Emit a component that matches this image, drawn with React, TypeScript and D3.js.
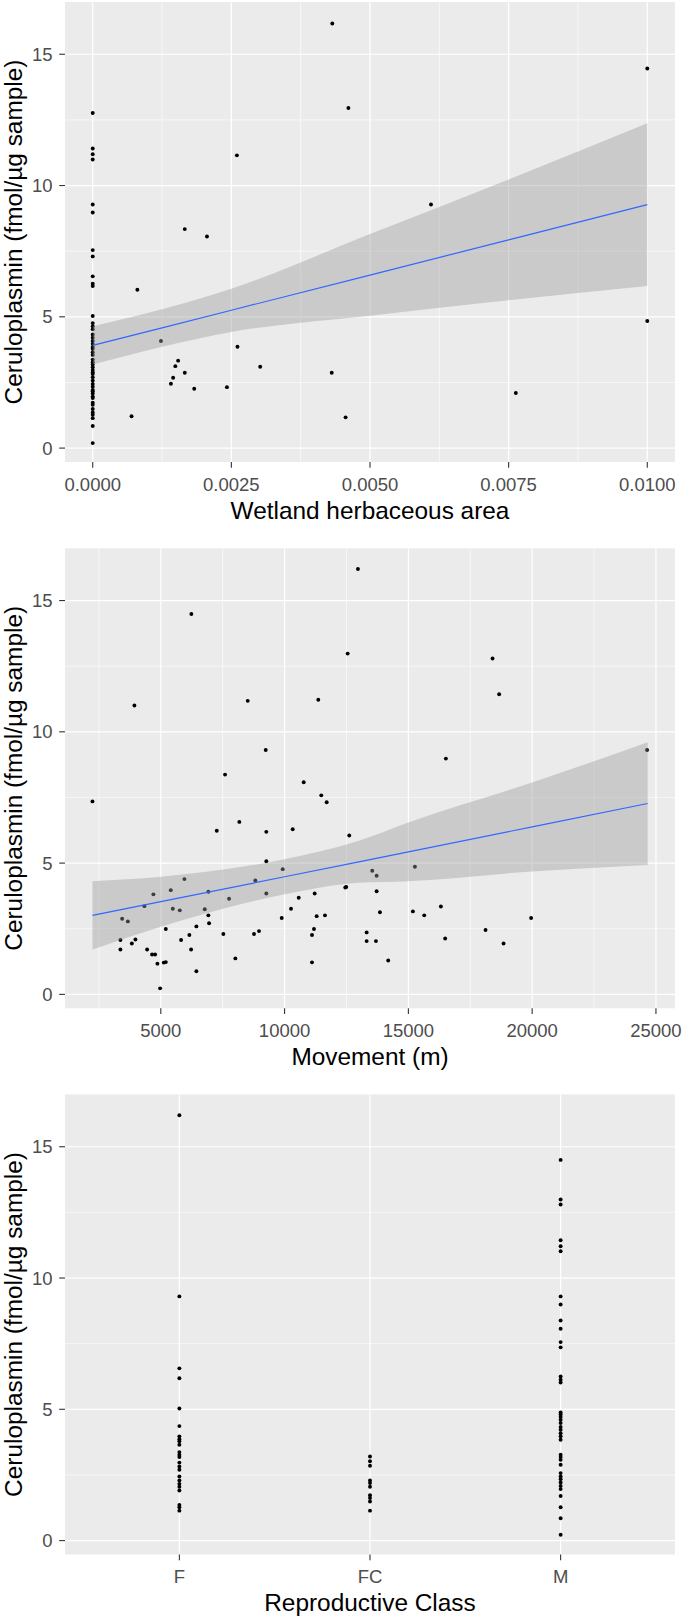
import React from 'react';
import * as d3 from 'd3';

// ---------- shared y axis ----------
const yTicks = [0, 5, 10, 15];
const yMinor = [2.5, 7.5, 12.5];
const yTitle = 'Ceruloplasmin (fmol/µg sample)';
const yDomain = [-0.53, 16.99];

// ---------- panel 1: wetland herbaceous area ----------
const wetlandTicks = [0, 0.0025, 0.005, 0.0075, 0.01];
const wetlandMinor = [0.00125, 0.00375, 0.00625, 0.00875];
const wetlandDomain = [-0.0005, 0.0105];
const wetlandZeroY = [
  12.76, 11.41, 11.19, 10.99, 9.28, 8.97, 7.54, 7.3, 6.54, 6.26, 6.17, 5.03, 4.76, 4.64, 4.53,
  4.33, 4.2, 4.08, 3.97, 3.85, 3.78, 3.65, 3.55, 3.37, 3.27, 3.18, 3.08, 2.97, 2.89, 2.82, 2.7,
  2.57, 2.44, 2.34, 2.21, 2.16, 2.08, 1.96, 1.91, 1.73, 1.65, 1.49, 1.36, 1.27, 1.14, 0.84, 0.19,
];
const wetlandX = [
  0.00432, 0.00461, 0.0026, 0.00166, 0.00206, 0.01, 0.0061, 0.000805, 0.0007, 0.00123, 0.00141,
  0.00145, 0.00149, 0.00154, 0.00166, 0.00183, 0.00242, 0.00261, 0.00302, 0.00431, 0.00456,
  0.00763, 0.01,
];
const wetlandY = [
  16.17, 12.95, 11.15, 8.34, 8.06, 14.46, 9.28, 6.03, 1.21, 4.08, 2.45, 2.68, 3.12, 3.33, 2.87,
  2.26, 2.32, 3.86, 3.1, 2.87, 1.17, 2.1, 4.84,
];
const wetlandSmoothX = [0, 0.00125, 0.0025, 0.005, 0.0075, 0.01];
const wetlandFit = [3.91, 4.58, 5.25, 6.59, 7.93, 9.27];
const wetlandLo = [3.18, 3.86, 4.42, 5.04, 5.63, 6.17];
const wetlandHi = [4.64, 5.29, 6.07, 8.15, 10.23, 12.37];

// ---------- panel 2: movement ----------
const moveTicks = [5000, 10000, 15000, 20000, 25000];
const moveMinor = [2500, 7500, 12500, 17500, 22500];
const moveDomain = [1130, 25770];
const moveX = [
  3934, 6235, 8511, 9238, 7595, 10772, 11361, 12548, 12963, 18400, 18667, 16515, 24640,
  2239, 11482, 11700, 8172, 7260, 9262, 10328, 12612, 9262, 9924, 5954, 8818, 5403, 4701, 6921,
  9262, 7757, 10570, 4338, 5484, 5767, 6776, 10259, 11216, 6921, 11296, 11631, 9884, 3438, 3668,
  6949, 6437, 5202, 11187, 7527, 6154, 8765, 8967, 11107, 3369, 3975, 3830, 5819, 3369, 4447,
  6223, 4649, 4770, 4863, 5121, 5202, 8011, 11107, 6437, 4972,
  15264, 13541, 13718, 12451, 12491, 13718, 16313, 13852, 15183, 15640, 19958, 18117, 13315,
  13315, 13690, 16487, 18845, 14186,
];
const moveY = [
  11.0, 14.49, 11.18, 9.31, 8.37, 8.08, 11.22, 12.98, 16.2, 12.79, 11.43, 8.98, 9.31,
  7.35, 7.58, 7.32, 6.57, 6.23, 6.19, 6.29, 6.05, 5.07, 4.77, 4.39, 4.34, 3.97, 3.81, 3.91,
  3.84, 3.64, 3.68, 3.36, 3.26, 3.2, 3.24, 3.26, 3.84, 3.01, 2.98, 3.01, 2.91, 2.88, 2.78,
  2.71, 2.59, 2.49, 2.49, 2.3, 2.26, 2.3, 2.41, 2.26, 2.07, 2.09, 1.94, 2.07, 1.71, 1.71,
  1.71, 1.52, 1.52, 1.17, 1.21, 1.23, 1.37, 1.22, 0.88, 0.23,
  4.86, 4.71, 4.52, 4.07, 4.09, 3.93, 3.35, 3.13, 3.16, 3.01, 2.91, 2.45, 2.36,
  2.03, 2.03, 2.13, 1.94, 1.29,
];
const moveSmoothX = [2240, 5000, 10000, 13000, 15000, 20000, 24665];
const moveFit = [3.01, 3.53, 4.48, 5.05, 5.43, 6.38, 7.27];
const moveLo = [1.71, 2.58, 3.81, 4.25, 4.31, 4.68, 4.93];
const moveHi = [4.31, 4.48, 5.15, 5.85, 6.55, 8.07, 9.6];

// ---------- panel 3: reproductive class ----------
const classes = ['F', 'FC', 'M'];
const classF = [
  16.2, 9.3, 6.56, 6.18, 5.03, 4.36, 3.97, 3.86, 3.78, 3.65, 3.37, 3.27, 3.18, 2.97, 2.82, 2.7,
  2.44, 2.29, 2.16, 2.05, 1.91, 1.36, 1.27, 1.14,
];
const classFC = [3.2, 3.02, 2.85, 2.29, 2.19, 2.05, 1.73, 1.62, 1.49, 1.14];
const classM = [
  14.5, 12.99, 12.8, 11.44, 11.21, 11.02, 9.3, 8.99, 8.38, 8.07, 7.56, 7.36, 6.25, 6.13, 6.02,
  4.88, 4.8, 4.71, 4.6, 4.48, 4.33, 4.22, 4.09, 3.97, 3.84, 3.27, 3.18, 3.08, 2.89, 2.57, 2.44,
  2.34, 2.21, 2.08, 1.96, 1.7, 1.27, 0.85, 0.22,
];

// ---------- layout ----------
const W = 685;
const H = 1619;
const LEFT = 65;
const RIGHT = 675;
const PH = 460;
const TOPS = [2, 548.3, 1094.5];
const FONT = '"Liberation Sans", Arial, Helvetica, sans-serif';
const BG = '#EBEBEB';

type Pt = { x: number | string; y: number };
type Smooth = { x: number[]; fit: number[]; lo: number[]; hi: number[] };

function Panel(props: {
  top: number;
  xPos: (v: any) => number;
  xTicks: any[];
  xMinor: number[];
  xFmt: (v: any) => string;
  xTitle: string;
  points: Pt[];
  smooth?: Smooth;
}) {
  const { top, xPos, xTicks, xMinor, xFmt, xTitle, points, smooth } = props;
  const bottom = top + PH;
  const y = d3.scaleLinear().domain(yDomain).range([bottom, top]);
  const cx = (LEFT + RIGHT) / 2;
  const cy = (top + bottom) / 2;

  let ribbon: string | null = null;
  let line: string | null = null;
  if (smooth) {
    const rows = smooth.x.map((xv, i) => ({ x: xv, fit: smooth.fit[i], lo: smooth.lo[i], hi: smooth.hi[i] }));
    ribbon = d3
      .area<any>()
      .x((d) => xPos(d.x))
      .y0((d) => y(d.lo))
      .y1((d) => y(d.hi))
      .curve(d3.curveMonotoneX)(rows);
    line = d3
      .line<any>()
      .x((d) => xPos(d.x))
      .y((d) => y(d.fit))(rows);
  }

  return (
    <g>
      <rect x={LEFT} y={top} width={RIGHT - LEFT} height={PH} fill={BG} />
      {yMinor.map((v) => (
        <line key={'ym' + v} x1={LEFT} x2={RIGHT} y1={y(v)} y2={y(v)} stroke="#fff" strokeWidth={0.6} />
      ))}
      {xMinor.map((v) => (
        <line key={'xm' + v} x1={xPos(v)} x2={xPos(v)} y1={top} y2={bottom} stroke="#fff" strokeWidth={0.6} />
      ))}
      {yTicks.map((v) => (
        <line key={'yM' + v} x1={LEFT} x2={RIGHT} y1={y(v)} y2={y(v)} stroke="#fff" strokeWidth={1.2} />
      ))}
      {xTicks.map((v) => (
        <line key={'xM' + v} x1={xPos(v)} x2={xPos(v)} y1={top} y2={bottom} stroke="#fff" strokeWidth={1.2} />
      ))}
      {points.map((p, i) => (
        <circle key={'p' + i} cx={xPos(p.x)} cy={y(p.y)} r={1.95} fill="#000" />
      ))}
      {ribbon && <path d={ribbon} fill="#999999" fillOpacity={0.4} stroke="none" />}
      {line && <path d={line} fill="none" stroke="#3366FF" strokeWidth={1.2} />}
      {/* y axis */}
      {yTicks.map((v) => (
        <g key={'yt' + v}>
          <line x1={LEFT - 5.8} x2={LEFT} y1={y(v)} y2={y(v)} stroke="#333333" strokeWidth={1.1} />
          <text x={LEFT - 12.5} y={y(v)} dy="0.36em" textAnchor="end" fontSize={18.5} fill="#4D4D4D" fontFamily={FONT}>
            {v}
          </text>
        </g>
      ))}
      {/* x axis */}
      {xTicks.map((v) => (
        <g key={'xt' + v}>
          <line x1={xPos(v)} x2={xPos(v)} y1={bottom} y2={bottom + 5.8} stroke="#333333" strokeWidth={1.1} />
          <text x={xPos(v)} y={bottom + 28.8} textAnchor="middle" fontSize={18.5} fill="#4D4D4D" fontFamily={FONT}>
            {xFmt(v)}
          </text>
        </g>
      ))}
      <text x={cx} y={bottom + 56.8} textAnchor="middle" fontSize={24.4} fill="#000" fontFamily={FONT}>
        {xTitle}
      </text>
      <text
        transform={`translate(21.7,${cy}) rotate(-90)`}
        textAnchor="middle"
        fontSize={24.4}
        fill="#000"
        fontFamily={FONT}
      >
        {yTitle}
      </text>
    </g>
  );
}

export default function App() {
  const x1 = d3.scaleLinear().domain(wetlandDomain).range([LEFT, RIGHT]);
  const x2 = d3.scaleLinear().domain(moveDomain).range([LEFT, RIGHT]);
  const x3 = d3.scalePoint<string>().domain(classes).range([LEFT, RIGHT]).padding(0.6);

  const pts1: Pt[] = [
    ...wetlandZeroY.map((v) => ({ x: 0, y: v })),
    ...wetlandX.map((v, i) => ({ x: v, y: wetlandY[i] })),
  ];
  const pts2: Pt[] = moveX.map((v, i) => ({ x: v, y: moveY[i] }));
  const pts3: Pt[] = [
    ...classF.map((v) => ({ x: 'F', y: v })),
    ...classFC.map((v) => ({ x: 'FC', y: v })),
    ...classM.map((v) => ({ x: 'M', y: v })),
  ];

  return (
    <svg
      width={W}
      height={H}
      viewBox={`0 0 ${W} ${H}`}
      style={{ position: 'absolute', left: 0, top: 0, background: '#fff' }}
    >
      <rect x={0} y={0} width={W} height={H} fill="#fff" />
      <Panel
        top={TOPS[0]}
        xPos={(v) => x1(v)}
        xTicks={wetlandTicks}
        xMinor={wetlandMinor}
        xFmt={d3.format('.4f')}
        xTitle="Wetland herbaceous area"
        points={pts1}
        smooth={{ x: wetlandSmoothX, fit: wetlandFit, lo: wetlandLo, hi: wetlandHi }}
      />
      <Panel
        top={TOPS[1]}
        xPos={(v) => x2(v)}
        xTicks={moveTicks}
        xMinor={moveMinor}
        xFmt={d3.format('d')}
        xTitle="Movement (m)"
        points={pts2}
        smooth={{ x: moveSmoothX, fit: moveFit, lo: moveLo, hi: moveHi }}
      />
      <Panel
        top={TOPS[2]}
        xPos={(v) => x3(v) as number}
        xTicks={classes}
        xMinor={[]}
        xFmt={(v) => String(v)}
        xTitle="Reproductive Class"
        points={pts3}
      />
    </svg>
  );
}
